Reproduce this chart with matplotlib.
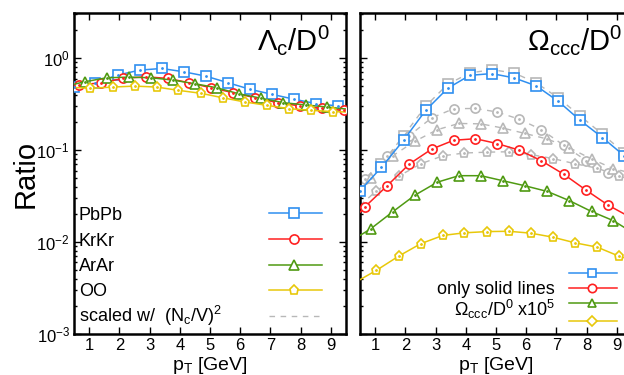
import matplotlib
matplotlib.use('Agg')
import matplotlib.pyplot as plt
import numpy as np
from matplotlib.ticker import LogLocator, NullFormatter

plt.rcParams['font.family'] = ['Liberation Sans', 'DejaVu Sans']
plt.rcParams['mathtext.fontset'] = 'custom'
plt.rcParams['mathtext.rm'] = 'Liberation Sans'
plt.rcParams['mathtext.it'] = 'Liberation Sans'
plt.rcParams['mathtext.default'] = 'regular'

# pT grid of each system (points where markers sit, plus ends of the curve)
pt_pbpb = [0.5, 1.21, 1.94, 2.67, 3.40, 4.13, 4.86, 5.60, 6.33, 7.06, 7.79, 8.52, 9.24, 9.5]
pt_krkr = [0.5, 0.66, 1.40, 2.13, 2.87, 3.60, 4.32, 5.03, 5.77, 6.50, 7.24, 7.98, 8.71, 9.42, 9.5]
pt_arar = [0.5, 0.85, 1.58, 2.32, 3.06, 3.77, 4.50, 5.22, 5.95, 6.70, 7.43, 8.16, 8.88, 9.5]
pt_oo = [0.5, 1.04, 1.78, 2.51, 3.24, 3.95, 4.70, 5.42, 6.15, 6.88, 7.62, 8.35, 9.08, 9.5]

# Lambda_c / D0
lam_pbpb = [0.485, 0.54, 0.654, 0.741, 0.773, 0.711, 0.638, 0.54, 0.458, 0.404, 0.357, 0.32, 0.302, 0.295]
lam_krkr = [0.50, 0.51, 0.54, 0.603, 0.627, 0.603, 0.54, 0.477, 0.421, 0.371, 0.328, 0.302, 0.285, 0.271, 0.27]
lam_arar = [0.52, 0.554, 0.612, 0.622, 0.612, 0.578, 0.527, 0.477, 0.41, 0.366, 0.328, 0.31, 0.294, 0.28]
lam_oo = [0.48, 0.47, 0.485, 0.497, 0.485, 0.447, 0.415, 0.371, 0.334, 0.307, 0.282, 0.271, 0.262, 0.26]

# Omega_ccc / D0 (x1e5)
omg_pbpb = [0.0362, 0.065, 0.128, 0.27, 0.47, 0.65, 0.68, 0.61, 0.50, 0.34, 0.21, 0.137, 0.087, 0.070]
omg_krkr = [0.0211, 0.0241, 0.041, 0.0705, 0.1025, 0.128, 0.133, 0.118, 0.100, 0.0766, 0.0547, 0.0367, 0.0252, 0.0188, 0.0178]
omg_arar = [0.0118, 0.0139, 0.0213, 0.0324, 0.0448, 0.0527, 0.0527, 0.0465, 0.041, 0.0355, 0.0282, 0.0215, 0.0171, 0.0128]
omg_oo = [0.0039, 0.00492, 0.00703, 0.0096, 0.0118, 0.0126, 0.0130, 0.0131, 0.0125, 0.0113, 0.0098, 0.0088, 0.0070, 0.0064]

# scaled with (Nc/V)^2
sc_pbpb = [0.040, 0.071, 0.143, 0.30, 0.52, 0.69, 0.75, 0.69, 0.54, 0.37, 0.235, 0.149, 0.094, 0.076]
sc_krkr = [0.042, 0.0485, 0.0857, 0.144, 0.224, 0.282, 0.284, 0.26, 0.217, 0.167, 0.113, 0.077, 0.056, 0.043, 0.041]
sc_arar = [0.040, 0.0497, 0.0867, 0.125, 0.167, 0.195, 0.193, 0.174, 0.152, 0.132, 0.106, 0.080, 0.063, 0.056]
sc_oo = [0.025, 0.036, 0.052, 0.071, 0.0867, 0.093, 0.095, 0.096, 0.0896, 0.081, 0.071, 0.0636, 0.052, 0.048]

systems = ['PbPb', 'KrKr', 'ArAr', 'OO']
colors = ['#2f8ff0', '#ff2020', '#4f9a12', '#e8c80a']
markers = ['s', 'o', '^', 'p']
gray = '#b8b8b8'
MS = 6.6

W, H = 624, 375
fig = plt.figure(figsize=(W / 100, H / 100), dpi=100)
ax1 = fig.add_axes([74 / W, 41 / H, 272 / W, 321 / H])
ax2 = fig.add_axes([360 / W, 41 / H, 272 / W, 321 / H])


def curve(ax, x, y, color, marker, first, z=3):
    ev = slice(first, -1)
    ax.plot(x, y, color=color, lw=1.1, marker=marker, ms=MS, mew=1.2,
            mfc='white', mec=color, markevery=ev, zorder=z)
    ax.plot(x, y, ls='none', marker='.', ms=2, color=color, markevery=ev, zorder=z + 0.5)


pts = [pt_pbpb, pt_krkr, pt_arar, pt_oo]
first = [0, 1, 1, 1]

for p, y, c, m, f in zip(pts, [lam_pbpb, lam_krkr, lam_arar, lam_oo], colors, markers, first):
    curve(ax1, p, y, c, m, f)

for p, y, m, f in zip(pts, [sc_pbpb, sc_krkr, sc_arar, sc_oo], markers, first):
    ax2.plot(p, y, color=gray, lw=1.0, dashes=(4, 4), zorder=2)
    ax2.plot(p, y, ls='none', marker=m, ms=MS, mew=1.2, mfc='white', mec=gray,
             markevery=slice(f, -1), zorder=2.2)
    ax2.plot(p, y, ls='none', marker='.', ms=2, color=gray, markevery=slice(f, -1), zorder=2.3)

for p, y, c, m, f in zip(pts, [omg_pbpb, omg_krkr, omg_arar, omg_oo], colors, markers, first):
    curve(ax2, p, y, c, m, f)

for ax in (ax1, ax2):
    ax.set_yscale('log')
    ax.set_xlim(0.5, 9.5)
    ax.set_ylim(1e-3, 3.1)
    ax.set_xticks(range(1, 10))
    ax.yaxis.set_major_locator(LogLocator(base=10, numticks=10))
    ax.yaxis.set_minor_locator(LogLocator(base=10, subs=np.arange(2, 10), numticks=20))
    ax.yaxis.set_minor_formatter(NullFormatter())
    ax.tick_params(which='both', direction='in', top=True, right=True, labelsize=12, width=1)
    ax.tick_params(which='major', length=5, pad=3)
    ax.tick_params(which='minor', length=2.5)
    for s in ax.spines.values():
        s.set_linewidth(1.8)
    ax.set_xlabel('p$_T$ [GeV]', fontsize=14, labelpad=1)

ax2.tick_params(labelleft=False)
ax1.set_ylabel('Ratio', fontsize=21, labelpad=-2)

ax1.text(0.672, 0.885, r'$\Lambda_c$/D$^0$', transform=ax1.transAxes, fontsize=21)
ax2.text(0.613, 0.885, r'$\Omega_{ccc}$/D$^0$', transform=ax2.transAxes, fontsize=21)

# legend, left panel
key_rows = [0.376, 0.295, 0.215, 0.137, 0.056]
labels = systems + [r'scaled w/  (N$_c$/V)$^2$']
for i, lab in enumerate(labels):
    ax1.text(0.018, key_rows[i] - 0.02, lab, transform=ax1.transAxes, fontsize=13, va='baseline')
for i in range(4):
    ax1.plot([0.717, 0.912], [key_rows[i]] * 2, color=colors[i], lw=1.1, transform=ax1.transAxes)
    ax1.plot([0.81], [key_rows[i]], marker=markers[i], ms=MS, mew=1.2, mfc='white',
             mec=colors[i], transform=ax1.transAxes, ls='none')
ax1.plot([0.717, 0.912], [key_rows[4]] * 2, color=gray, lw=1.0, dashes=(4, 4), transform=ax1.transAxes)

# legend, right panel
key2 = [0.191, 0.144, 0.0956, 0.0405]
mk2 = ['s', 'o', '^', 'D']
for i in range(4):
    ax2.plot([0.768, 0.945], [key2[i]] * 2, color=colors[i], lw=1.1, transform=ax2.transAxes, clip_on=False)
    ax2.plot([0.853], [key2[i]], marker=mk2[i], ms=6 if i < 3 else 5, mew=1.2, mfc='white',
             mec=colors[i], transform=ax2.transAxes, ls='none')
ax2.text(0.717, 0.055, 'only solid lines\n' + r'$\Omega_{ccc}$/D$^0$ x10$^5$', transform=ax2.transAxes,
         fontsize=13, ha='right', ma='right', va='baseline', linespacing=1.0)

fig.savefig('out.png', dpi=100)
